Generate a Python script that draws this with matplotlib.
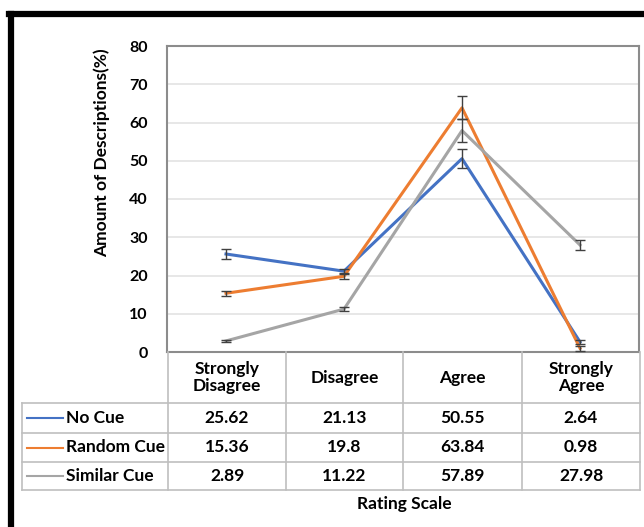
import matplotlib.pyplot as plt
from matplotlib.lines import Line2D

plt.rcParams['font.family'] = ['Lato', 'DejaVu Sans']

# data
categories = ['Strongly\nDisagree', 'Disagree', 'Agree', 'Strongly\nAgree']
series_names = ['No Cue', 'Random Cue', 'Similar Cue']
no_cue = [25.62, 21.13, 50.55, 2.64]
random_cue = [15.36, 19.8, 63.84, 0.98]
similar_cue = [2.89, 11.22, 57.89, 27.98]
no_cue_err = [1.3, 0.7, 2.5, 0.6]
random_cue_err = [0.7, 0.8, 3.0, 0.6]
similar_cue_err = [0.2, 0.5, 3.0, 1.3]
colors = ['#4472C4', '#ED7D31', '#A5A5A5']

values = [no_cue, random_cue, similar_cue]
errors = [no_cue_err, random_cue_err, similar_cue_err]

W, H = 644, 527
fig = plt.figure(figsize=(W / 100, H / 100), dpi=100)

def fx(px):
    return px / W

def fy(py):
    return 1 - py / H

ax = fig.add_axes([fx(167), fy(352), fx(639) - fx(167), fy(46) - fy(352)])
x = list(range(len(categories)))
for vals, errs, c in zip(values, errors, colors):
    ax.plot(x, vals, color=c, lw=2.2, zorder=3)
    ax.errorbar(x, vals, yerr=errs, fmt='none', ecolor='#404040',
                elinewidth=1, capsize=3.5, capthick=1, zorder=4)

ax.set_xlim(-0.5, 3.5)
ax.set_ylim(0, 80)
ax.set_yticks(range(0, 81, 10))
ax.set_xticks([])
ax.tick_params(axis='y', length=0, pad=14, labelsize=11.5)
for lab in ax.get_yticklabels():
    lab.set_fontweight('bold')
ax.grid(axis='y', color='#E3E3E3', lw=1.2)
ax.set_axisbelow(True)
for s in ax.spines.values():
    s.set_color('#8C8C8C')
    s.set_linewidth(1.5)
ax.set_ylabel('Amount of Descriptions(%)', fontsize=12.5, fontweight='bold')
ax.yaxis.set_label_coords(-0.12, 0.65)

# data table drawn below the axes
grid_c = '#BFBFBF'
col_edges = [168, 286, 403, 522, 640]
row_edges = [352, 403, 433, 462, 490]
tbl_left = 22

def hline(y, x0, x1):
    fig.add_artist(Line2D([fx(x0), fx(x1)], [fy(y), fy(y)], color=grid_c, lw=1.2))

def vline(xp, y0, y1):
    fig.add_artist(Line2D([fx(xp), fx(xp)], [fy(y0), fy(y1)], color=grid_c, lw=1.2))

for y in row_edges[1:]:
    hline(y, tbl_left, col_edges[-1])
vline(tbl_left, row_edges[1], row_edges[-1])
for xe in col_edges:
    vline(xe, row_edges[0], row_edges[-1])

for i, cat in enumerate(categories):
    cx = (col_edges[i] + col_edges[i + 1]) / 2
    cy = (row_edges[0] + row_edges[1]) / 2
    fig.text(fx(cx), fy(cy), cat, ha='center', va='center', fontsize=12.5,
             fontweight='bold', linespacing=1.15)

for r, (name, vals, c) in enumerate(zip(series_names, values, colors)):
    cy = (row_edges[r + 1] + row_edges[r + 2]) / 2
    fig.add_artist(Line2D([fx(27), fx(63)], [fy(cy), fy(cy)], color=c, lw=1.5))
    fig.text(fx(66), fy(cy), name, ha='left', va='center', fontsize=12.5,
             fontweight='bold')
    for i, v in enumerate(vals):
        cx = (col_edges[i] + col_edges[i + 1]) / 2
        fig.text(fx(cx), fy(cy), f'{v:g}', ha='center', va='center',
                 fontsize=12.5, fontweight='bold')

fig.text(fx(404), fy(504), 'Rating Scale', ha='center', va='center',
         fontsize=12.5, fontweight='bold')

# black frame around the figure (left and top visible)
fig.add_artist(Line2D([fx(11), fx(11)], [fy(525), fy(14)], color='black', lw=4.5))
fig.add_artist(Line2D([fx(9), fx(644)], [fy(14), fy(14)], color='black', lw=4.5))

fig.savefig('out.png', dpi=100)
